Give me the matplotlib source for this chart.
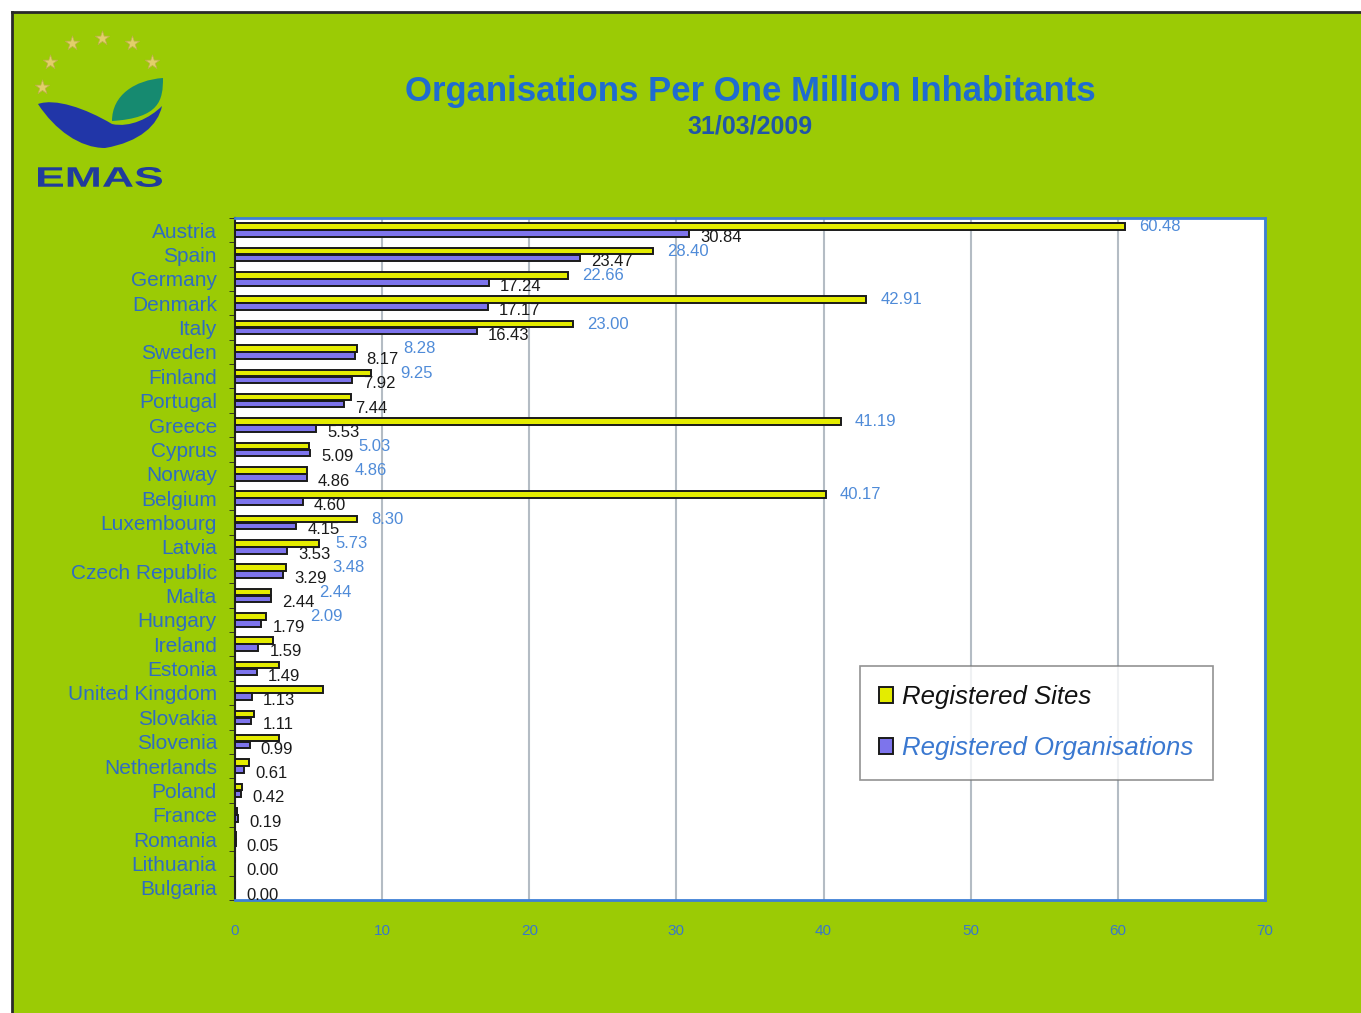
import numpy as np
import matplotlib
matplotlib.use("Agg")
import matplotlib.pyplot as plt
from matplotlib.patches import PathPatch
from matplotlib.path import Path
from matplotlib.textpath import TextPath
from matplotlib.font_manager import FontProperties
from matplotlib.transforms import Affine2D

# ---------------- data ----------------
countries = ["Austria", "Spain", "Germany", "Denmark", "Italy", "Sweden", "Finland",
             "Portugal", "Greece", "Cyprus", "Norway", "Belgium", "Luxembourg", "Latvia",
             "Czech Republic", "Malta", "Hungary", "Ireland", "Estonia", "United Kingdom",
             "Slovakia", "Slovenia", "Netherlands", "Poland", "France", "Romania",
             "Lithuania", "Bulgaria"]
sites = [60.48, 28.40, 22.66, 42.91, 23.00, 8.28, 9.25, 7.90, 41.19, 5.03, 4.86, 40.17,
         8.30, 5.73, 3.48, 2.44, 2.09, 2.55, 3.00, 5.96, 1.29, 3.00, 0.97, 0.45, 0.15,
         0.05, 0.00, 0.00]
orgs = [30.84, 23.47, 17.24, 17.17, 16.43, 8.17, 7.92, 7.44, 5.53, 5.09, 4.86, 4.60,
        4.15, 3.53, 3.29, 2.44, 1.79, 1.59, 1.49, 1.13, 1.11, 0.99, 0.61, 0.42, 0.19,
        0.05, 0.00, 0.00]
# which site labels are visible in the original
sites_label_shown = [True] * 7 + [False] + [True] * 9 + [False] * 11
xticks = [0, 10, 20, 30, 40, 50, 60, 70]
title = "Organisations Per One Million Inhabitants"
subtitle = "31/03/2009"
legend_labels = ["Registered Sites", "Registered Organisations"]

# ---------------- styling ----------------
W, H = 1361, 1013
GREEN = "#9BCB05"
YELLOW = "#E4EC00"
PURPLE = "#7D74EC"
BLUE_TXT = "#2F6DC0"
LBL_BLUE = "#4F8BD8"

plt.rcParams["font.family"] = ["Liberation Sans", "DejaVu Sans"]

fig = plt.figure(figsize=(W / 100, H / 100), dpi=100, facecolor="white")

# green slide background with dark top/left border
bg = fig.add_axes([12 / W, 0, 1 - 12 / W, 1 - 12 / H])
bg.set_xlim(0, 1); bg.set_ylim(0, 1)
bg.set_facecolor(GREEN)
for s in ["right", "bottom"]:
    bg.spines[s].set_visible(False)
for s in ["top", "left"]:
    bg.spines[s].set_color("#2a2a2a")
    bg.spines[s].set_linewidth(2)
bg.set_xticks([]); bg.set_yticks([])
bg.set_zorder(0)

# ---------------- logo ----------------
lg = fig.add_axes([25 / W, 1 - 200 / H, 150 / W, 175 / H])
lg.set_xlim(25, 175); lg.set_ylim(200, 25)
lg.axis("off")
lg.patch.set_alpha(0)
star_x = [42, 50, 72, 102, 132, 152]
star_y = [87, 62, 43, 38, 43, 62]
lg.scatter(star_x, star_y, marker="*", s=120, color="#E2CF6A", edgecolor="#BFAE4E", lw=0.5, zorder=3)
wave = Path([(38, 104),
             (55, 98), (85, 108), (112, 124),
             (130, 128), (150, 118), (162, 106),
             (158, 125), (140, 142), (105, 148),
             (80, 148), (55, 130), (38, 104),
             (38, 104)],
            [Path.MOVETO] + [Path.CURVE4] * 12 + [Path.CLOSEPOLY])
lg.add_patch(PathPatch(wave, facecolor="#2136A8", edgecolor="none", zorder=2))
leaf = Path([(112, 121),
             (112, 95), (135, 80), (163, 78),
             (163, 100), (160, 118), (112, 121),
             (112, 121)],
            [Path.MOVETO] + [Path.CURVE4] * 6 + [Path.CLOSEPOLY])
lg.add_patch(PathPatch(leaf, facecolor="#168A70", edgecolor="none", zorder=2))
tp = TextPath((0, 0), "EMAS", size=20, prop=FontProperties(family="Liberation Sans", weight="bold"))
ext = tp.get_extents()
sx = (162 - 38) / ext.width
sy = 20 / ext.height
tp_t = Affine2D().translate(-ext.x0, -ext.y0).scale(sx, -sy).translate(38, 187).transform_path(tp)
lg.add_patch(PathPatch(tp_t, facecolor="#203C9C", edgecolor="none", zorder=3))

# ---------------- titles ----------------
fig.text(750 / W, 1 - 91 / H, title, ha="center", va="center", fontsize=25,
         fontweight="bold", color="#1F6CD0")
fig.text(750 / W, 1 - 126 / H, subtitle, ha="center", va="center", fontsize=18,
         fontweight="bold", color="#2056A8")

# ---------------- main chart ----------------
ax = fig.add_axes([235 / W, 1 - 900 / H, (1265 - 235) / W, (900 - 218) / H])
ax.set_facecolor("white")
n = len(countries)
y = np.arange(n)
bh = 0.27
ax.barh(y - bh / 2 - 0.01, sites, height=bh, color=YELLOW, edgecolor="#1a1a1a", lw=1.4, zorder=3,
        label=legend_labels[0])
ax.barh(y + bh / 2 + 0.01, orgs, height=bh, color=PURPLE, edgecolor="#1a1a1a", lw=1.4, zorder=3,
        label=legend_labels[1])

ax.set_xlim(0, 70)
ax.set_ylim(n - 0.55, -0.48)

black_lbls = []
for i in range(n):
    t = ax.annotate(f"{orgs[i]:.2f}", (orgs[i], y[i] + bh / 2), xytext=(8, -3),
                    textcoords="offset points", ha="left", va="center", fontsize=12,
                    color="#1a1a1a", zorder=4)
    black_lbls.append(t)

fig.canvas.draw()
renderer = fig.canvas.get_renderer()
for i in range(n):
    if not sites_label_shown[i]:
        continue
    bar_end_px = ax.transData.transform((sites[i], y[i]))[0]
    blk_end_px = black_lbls[i].get_window_extent(renderer).x1
    start_px = max(bar_end_px + 14, blk_end_px + 5)
    dx_pt = (start_px - bar_end_px) * 72 / fig.dpi
    ax.annotate(f"{sites[i]:.2f}", (sites[i], y[i] - bh / 2), xytext=(dx_pt, 0),
                textcoords="offset points", ha="left", va="center", fontsize=12,
                color=LBL_BLUE, zorder=4)

ax.set_xticks(xticks)
ax.set_xticklabels([str(t) for t in xticks], fontsize=11, color="#3A78C8")
ax.tick_params(axis="x", length=0, pad=17)
ax.set_yticks(y)
ax.set_yticklabels(countries, fontsize=15, color=BLUE_TXT)
ax.tick_params(axis="y", length=0, pad=13)
ax.set_yticks(np.arange(n + 1) - 0.5, minor=True)
ax.tick_params(axis="y", which="minor", length=4, color="#222222", direction="out")
ax.grid(axis="x", color="#B4BCC4", lw=1.5, zorder=0)
for s in ["top", "right", "bottom"]:
    ax.spines[s].set_color("#3D80D6")
    ax.spines[s].set_linewidth(2)
ax.spines["left"].set_color("#222222")
ax.spines["left"].set_linewidth(1.5)

leg = ax.legend(loc="upper left", bbox_to_anchor=(860 / W, 1 - 666 / H),
                bbox_transform=fig.transFigure, fontsize=18.5, frameon=True, fancybox=False,
                edgecolor="#777777", handlelength=0.55, handleheight=0.55, handletextpad=0.35,
                labelspacing=1.05, borderpad=0.75, borderaxespad=0)
for t, c in zip(leg.get_texts(), ["#111111", "#3A78D0"]):
    t.set_color(c)
    t.set_fontstyle("italic")
leg.get_frame().set_linewidth(1.2)

fig.savefig("out.png", dpi=100, facecolor="white")
